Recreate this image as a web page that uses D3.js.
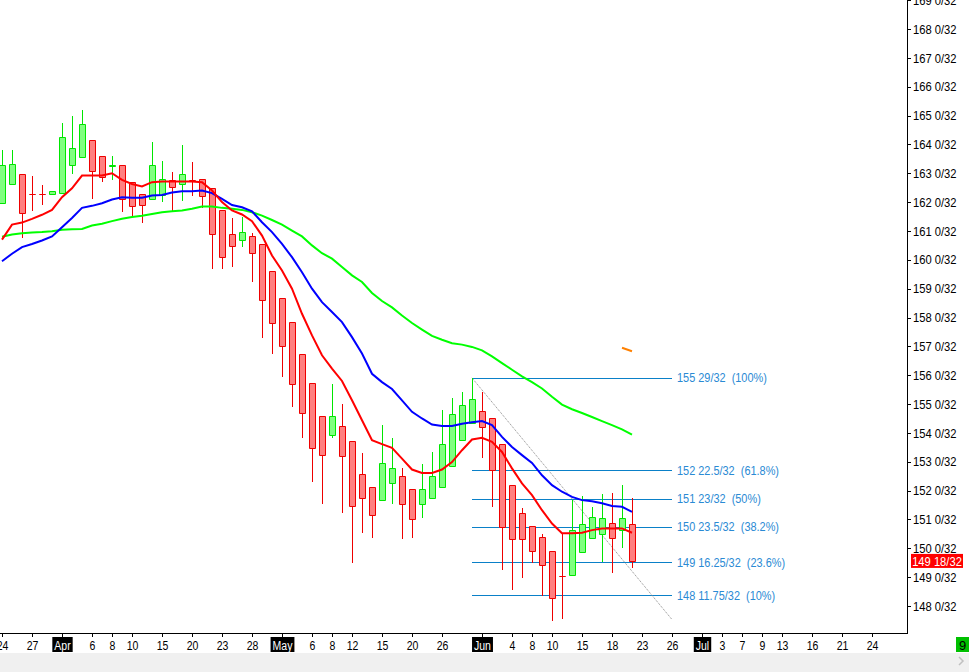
<!DOCTYPE html>
<html><head><meta charset="utf-8">
<script src="https://cdn.jsdelivr.net/npm/d3@7"></script>
<style>
html,body{margin:0;padding:0;background:#fff;overflow:hidden}
svg{display:block}
text{font-family:"Liberation Sans",Arial,sans-serif}
</style></head><body>
<svg id="c" width="969" height="672"></svg>
<script>
// ---------- DATA ----------
const candleDates = [
 "2015-03-24","2015-03-25","2015-03-26","2015-03-27","2015-03-30","2015-03-31",
 "2015-04-01","2015-04-02","2015-04-03","2015-04-06","2015-04-07","2015-04-08","2015-04-09","2015-04-10",
 "2015-04-13","2015-04-14","2015-04-15","2015-04-16","2015-04-17","2015-04-20","2015-04-21","2015-04-22",
 "2015-04-23","2015-04-24","2015-04-27","2015-04-28","2015-04-29","2015-04-30",
 "2015-05-01","2015-05-04","2015-05-05","2015-05-06","2015-05-07","2015-05-08","2015-05-11","2015-05-12",
 "2015-05-13","2015-05-14","2015-05-15","2015-05-18","2015-05-19","2015-05-20","2015-05-21","2015-05-22",
 "2015-05-26","2015-05-27","2015-05-28","2015-05-29",
 "2015-06-01","2015-06-02","2015-06-03","2015-06-04","2015-06-05","2015-06-08","2015-06-09","2015-06-10",
 "2015-06-11","2015-06-12","2015-06-15","2015-06-16","2015-06-17","2015-06-18","2015-06-19","2015-06-22"
];
const futureDates = [
 "2015-06-23","2015-06-24","2015-06-25","2015-06-26","2015-06-29","2015-06-30",
 "2015-07-01","2015-07-02","2015-07-03","2015-07-06","2015-07-07","2015-07-08","2015-07-09","2015-07-10",
 "2015-07-13","2015-07-14","2015-07-15","2015-07-16","2015-07-17","2015-07-20","2015-07-21","2015-07-22",
 "2015-07-23","2015-07-24","2015-07-27","2015-07-28","2015-07-29"
];
const openP = [161.97,162.63,162.98,162.29,162.29,162.29,162.32,163.29,163.58,164.15,163.60,163.25,163.29,162.71,
 162.29,162.11,162.26,162.75,162.63,162.78,162.80,162.49,161.71,160.90,160.69,160.84,160.55,159.60,
 158.69,157.86,156.75,155.74,154.60,153.94,154.25,153.73,152.59,152.14,151.66,152.28,152.52,152.04,151.52,151.76,
 152.14,152.87,153.77,154.36,154.77,154.50,153.60,152.18,151.24,150.79,150.38,149.89,149.04,149.06,
 149.86,150.34,150.48,150.86,150.62,150.83];
const highP = [163.81,163.81,162.98,162.92,162.61,162.40,164.75,165.00,165.20,164.15,163.60,163.61,163.29,162.71,
 162.29,164.09,163.44,163.03,163.99,163.40,162.80,162.49,161.71,161.44,161.48,160.93,160.55,159.60,
 158.69,157.86,156.75,155.74,154.60,155.71,154.99,153.73,153.29,152.14,154.26,153.84,152.80,152.04,152.92,153.34,
 154.81,155.22,155.43,155.906,155.43,154.50,153.60,152.18,151.40,150.79,150.48,149.89,150.52,151.69,
 151.81,151.44,151.88,151.90,152.19,151.76];
const lowP = [161.97,162.63,160.78,161.73,161.94,162.29,162.32,163.00,163.58,162.15,162.72,162.79,161.68,161.51,
 161.30,162.11,162.05,161.68,162.08,162.23,161.82,159.70,159.70,159.78,160.47,159.26,157.32,156.77,
 155.97,154.93,153.86,152.34,151.58,153.86,151.27,149.53,150.57,150.40,151.66,151.58,150.37,150.40,151.09,151.76,
 152.14,152.87,153.77,154.36,153.17,151.47,149.29,148.60,149.01,149.53,148.38,147.53,147.57,149.06,
 149.86,150.34,149.57,149.19,150.03,149.36];
const closeP = [163.30,163.32,161.63,162.29,162.29,162.40,164.27,163.88,164.71,163.08,162.87,163.30,162.11,161.87,
 161.91,163.29,162.80,162.51,162.98,162.78,162.20,160.90,160.11,160.49,160.96,160.24,158.62,157.82,
 157.00,155.68,154.70,153.46,153.25,154.60,153.21,151.45,151.73,151.14,152.94,152.77,151.55,151.00,152.04,152.52,
 153.60,154.64,154.95,155.19,154.22,152.71,150.74,150.33,150.33,149.91,149.41,148.27,149.04,150.62,
 150.83,151.10,151.04,150.34,151.04,149.5625];
const maRed = [160.70,161.22,161.29,161.42,161.56,161.73,162.17,162.48,162.92,162.92,162.92,163.00,162.77,162.63,
 162.54,162.69,162.71,162.71,162.71,162.71,162.69,162.40,162.00,161.71,161.57,161.34,160.84,160.15,
 159.63,159.00,158.13,157.38,156.69,156.23,155.80,155.13,154.44,153.75,153.61,153.48,153.11,152.73,152.61,152.61,
 152.73,152.99,153.40,153.77,153.83,153.69,153.34,152.77,152.25,151.84,151.32,150.86,150.52,150.52,
 150.54,150.63,150.69,150.69,150.69,150.54];
const maBlue = [159.95,160.21,160.44,160.55,160.67,160.81,161.13,161.45,161.80,161.87,161.96,162.09,162.17,162.15,
 162.15,162.23,162.25,162.33,162.38,162.38,162.40,162.31,162.11,161.90,161.82,161.68,161.30,160.96,
 160.55,160.09,159.57,159.00,158.53,158.19,157.84,157.32,156.75,156.05,155.76,155.52,155.13,154.73,154.50,154.29,
 154.24,154.24,154.32,154.37,154.41,154.27,153.86,153.51,153.23,152.96,152.53,152.19,151.96,151.78,
 151.67,151.63,151.56,151.47,151.44,151.26];
const maGreen = [160.80,160.88,160.92,160.95,160.96,160.99,161.04,161.06,161.07,161.19,161.25,161.34,161.42,161.48,
 161.53,161.59,161.65,161.68,161.71,161.77,161.85,161.85,161.80,161.77,161.73,161.65,161.53,161.38,
 161.22,161.01,160.81,160.50,160.23,160.04,159.75,159.46,159.23,158.85,158.57,158.35,158.07,157.81,157.58,157.36,
 157.23,157.11,157.06,156.98,156.86,156.65,156.42,156.19,155.96,155.76,155.54,155.25,154.98,154.82,
 154.69,154.55,154.41,154.27,154.12,153.94];
const fibValues = [155.90625,152.703125,151.71875,150.734375,149.5078125,148.3671875];
const fibLabels = ["155 29/32  (100%)","152 22.5/32  (61.8%)","151 23/32  (50%)","150 23.5/32  (38.2%)","149 16.25/32  (23.6%)","148 11.75/32  (10%)"];
const fibStartDate = "2015-05-29", fibEndDate = "2015-06-26";
const fibHigh = 155.90625, fibLow = 147.53125;
const orangeDates = ["2015-06-19","2015-06-22"], orangeValues = [156.95,156.83];
const priceTicks = [148,149,150,151,152,153,154,155,156,157,158,159,160,161,162,163,164,165,166,167,168,169];
const priceTickLabels = priceTicks.map(v => v + " 0/32");
const xTickDates = ["2015-03-24","2015-03-27","2015-04-01","2015-04-06","2015-04-08","2015-04-10","2015-04-15",
 "2015-04-20","2015-04-23","2015-04-28","2015-05-01","2015-05-06","2015-05-08","2015-05-12","2015-05-15",
 "2015-05-20","2015-05-26","2015-06-01","2015-06-04","2015-06-08","2015-06-10","2015-06-15","2015-06-18",
 "2015-06-23","2015-06-26","2015-07-01","2015-07-03","2015-07-07","2015-07-09","2015-07-13","2015-07-16",
 "2015-07-21","2015-07-24"];
const xTickLabels = ["24","27","Apr","6","8","10","15","20","23","28","May","6","8","12","15","20","26","Jun",
 "4","8","10","15","18","23","26","Jul","3","7","9","13","16","21","24"];
const lastPriceLabel = "149 18/32";
const cornerLabel = "9";

// ---------- CHART ----------
const svg = d3.select("#c");
const W = 969, H = 672, plotR = 907, plotB = 633;
const allDates = candleDates.concat(futureDates);
const idx = new Map(allDates.map((d,i)=>[d,i]));
const x = d3.scaleLinear().domain([0, allDates.length-1]).range([2, 2 + 10*(allDates.length-1)]);
const y = d3.scaleLinear().domain([148,168]).range([606,29]);
const crisp = v => Math.round(v) + 0.5;
function squeeze(sel, f){
  sel.each(function(){
    const w = this.getComputedTextLength();
    d3.select(this).attr("textLength", w*f).attr("lengthAdjust","spacingAndGlyphs");
  });
}

svg.append("rect").attr("width",W).attr("height",H).attr("fill","#fff");
svg.append("rect").attr("x",0).attr("y",653).attr("width",W).attr("height",H-653).attr("fill","#f0f0f0");

const plot = svg.append("g");
plot.append("clipPath").attr("id","clp").append("rect").attr("x",0).attr("y",0).attr("width",plotR).attr("height",plotB);
const g = plot.append("g").attr("clip-path","url(#clp)");

// fib lines
const fx0 = x(idx.get(fibStartDate)), fx1 = x(idx.get(fibEndDate));
g.selectAll("line.fib").data(fibValues).join("line").attr("class","fib")
  .attr("x1",fx0).attr("x2",fx1).attr("y1",d=>crisp(y(d))).attr("y2",d=>crisp(y(d)))
  .attr("stroke","#0a80c8").attr("stroke-width",1);
const fibT = g.selectAll("text.fib").data(fibValues).join("text").attr("class","fib")
  .attr("x",fx1+5).attr("y",d=>y(d)).attr("dy","0.35em")
  .attr("fill","#2a8ad4").attr("font-size","12px")
  .attr("xml:space","preserve").style("white-space","pre")
  .text((d,i)=>fibLabels[i]);
squeeze(fibT, 0.91);
// diagonal
g.append("line").attr("x1",fx0).attr("y1",y(fibHigh)).attr("x2",fx1).attr("y2",y(fibLow))
  .attr("stroke","#8a8a8a").attr("stroke-width",1).attr("stroke-dasharray","1,1");

// candles
const candles = candleDates.map((d,i)=>({i:idx.get(d),o:openP[i],h:highP[i],l:lowP[i],c:closeP[i]}));
const up = d => d.c > d.o;
const cg = g.selectAll("g.cd").data(candles).join("g").attr("class","cd");
cg.append("line")
  .attr("x1",d=>Math.round(x(d.i))+0.5).attr("x2",d=>Math.round(x(d.i))+0.5)
  .attr("y1",d=>Math.round(y(d.h))).attr("y2",d=>Math.round(y(d.l))+1)
  .attr("stroke",d=>up(d)?"#00e600":"#ee0000").attr("stroke-width",1);
cg.append("path")
  .attr("d",d=>{
    const x0 = Math.round(x(d.i))-2.5;
    const yt = crisp(y(Math.max(d.o,d.c))), yb = crisp(y(Math.min(d.o,d.c)));
    return `M${x0},${yt}H${x0+6}V${yb}H${x0}Z`;
  })
  .attr("fill",d=>up(d)?"#80ff80":"#ff8080")
  .attr("stroke",d=>up(d)?"#00e600":"#ee0000").attr("stroke-width",1);

// moving averages
const line = d3.line().x((d,i)=>x(idx.get(candleDates[i]))).y(d=>y(d));
[[maGreen,"#00ff00"],[maBlue,"#0000ff"],[maRed,"#ff0000"]].forEach(([arr,col])=>{
  g.append("path").datum(arr).attr("d",line).attr("fill","none").attr("stroke",col).attr("stroke-width",2);
});
// orange mark
g.append("path").datum(orangeValues)
  .attr("d", d3.line().x((d,i)=>x(idx.get(orangeDates[i]))).y(d=>y(d)))
  .attr("fill","none").attr("stroke","#ff8000").attr("stroke-width",2);

// right axis
svg.append("line").attr("x1",plotR+0.5).attr("x2",plotR+0.5).attr("y1",0).attr("y2",plotB+1)
  .attr("stroke","#000").attr("stroke-width",1);
const ra = svg.append("g");
ra.selectAll("line").data(priceTicks).join("line")
  .attr("x1",plotR).attr("x2",plotR+4).attr("y1",d=>crisp(y(d))).attr("y2",d=>crisp(y(d)))
  .attr("stroke","#000");
const raT = ra.selectAll("text").data(priceTicks).join("text")
  .attr("x",plotR+6).attr("y",d=>y(d)).attr("dy","0.36em").attr("font-size","13px").attr("fill","#000")
  .text((d,i)=>priceTickLabels[i]);
squeeze(raT, 0.86);
// last price label
const lp = closeP[closeP.length-1];
svg.append("rect").attr("x",911).attr("y",y(lp)-7).attr("width",52).attr("height",14).attr("fill","#ff0000");
const lpT = svg.append("text").attr("x",937).attr("y",y(lp)).attr("dy","0.36em").attr("text-anchor","middle")
  .attr("font-size","13px").attr("fill","#fff").text(lastPriceLabel);
squeeze(lpT, 0.86);

// bottom axis
svg.append("line").attr("x1",0).attr("x2",plotR+1).attr("y1",plotB+0.5).attr("y2",plotB+0.5).attr("stroke","#000");
const ba = svg.append("g");
const ticks = xTickDates.map((d,i)=>({xv:Math.round(x(idx.get(d)))+0.5,label:xTickLabels[i],month:isNaN(+xTickLabels[i])}));
ba.selectAll("line").data(ticks).join("line")
  .attr("x1",d=>d.xv).attr("x2",d=>d.xv).attr("y1",plotB).attr("y2",plotB+4).attr("stroke","#000");
const tg = ba.selectAll("g").data(ticks).join("g");
tg.each(function(d){
  const s = d3.select(this);
  const t = s.append("text").attr("x",d.xv).attr("y",645).attr("dy","0.36em").attr("text-anchor","middle")
    .attr("font-size","12.5px").attr("fill",d.month?"#fff":"#000").text(d.label);
  const w = t.node().getComputedTextLength()*0.84;
  t.attr("textLength",w).attr("lengthAdjust","spacingAndGlyphs");
  if(d.month){
    s.insert("rect","text").attr("x",d.xv-w/2-2).attr("y",637).attr("width",w+4).attr("height",15).attr("fill","#000");
  }
});
// corner box
svg.append("rect").attr("x",956).attr("y",637).attr("width",13).attr("height",15).attr("fill","#00c000");
svg.append("text").attr("x",962.5).attr("y",645).attr("dy","0.36em").attr("text-anchor","middle")
  .attr("font-size","13px").attr("fill","#000").text(cornerLabel);
svg.append("path").attr("d","M959,657 L963,661 L959,665").attr("fill","none").attr("stroke","#c0c0c0").attr("stroke-width",1.5);
</script>
</body></html>
